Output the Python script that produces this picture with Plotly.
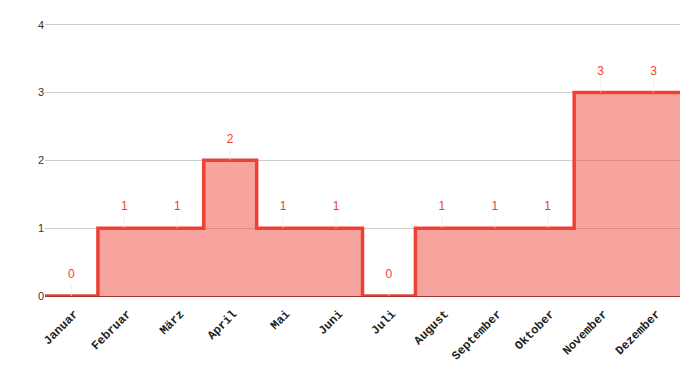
import plotly.graph_objects as go

months = ["Januar", "Februar", "März", "April", "Mai", "Juni", "Juli",
          "August", "September", "Oktober", "November", "Dezember"]
values = [0, 1, 1, 2, 1, 1, 0, 1, 1, 1, 3, 3]
y_ticks = [0, 1, 2, 3, 4]

n = len(months)
idx = list(range(n))
# extend the step line to both edges of the category band
xs = [-0.5] + idx + [n - 0.5]
ys = [values[0]] + values + [values[-1]]

line_color = "#ee4035"

fig = go.Figure()
fig.add_trace(go.Scatter(
    x=xs, y=ys, mode="lines", line=dict(shape="hvh", color=line_color, width=3.5),
    fill="tozeroy", fillcolor="rgba(238,64,53,0.48)", hoverinfo="skip", showlegend=False,
))
fig.add_trace(go.Scatter(
    x=idx, y=values, mode="markers+text", text=[str(v) for v in values],
    marker=dict(size=22, color="rgba(0,0,0,0)", symbol="line-ns",
                line=dict(color="rgba(0,0,0,0)", width=0)),
    error_y=dict(type="constant", value=0.17, valueminus=0, symmetric=False,
                 width=0, thickness=1, color="rgba(232,232,232,0.6)"),
    textposition="top center", textfont=dict(color=line_color, size=12, family="Arial, Liberation Sans"),
    showlegend=False, cliponaxis=False, hoverinfo="skip",
))

fig.update_layout(
    width=700, height=371,
    margin=dict(l=45, r=20, t=23, b=75),
    plot_bgcolor="white", paper_bgcolor="white",
    xaxis=dict(
        range=[-0.5, n - 0.5], tickmode="array", tickvals=idx, ticktext=months,
        tickangle=-45, tickfont=dict(family="Liberation Mono, Courier New", size=12, color="#222", weight="bold"),
        showgrid=False, zeroline=False, showline=True, linecolor="#9a3b33", linewidth=1,
        ticks="", fixedrange=True, ticklabelstandoff=5, ticklabelshift=3, automargin=False,
    ),
    yaxis=dict(
        range=[0, 4.025], tickmode="array", tickvals=y_ticks,
        tickfont=dict(family="Arial, Liberation Sans", size=11, color="#333"),
        showgrid=True, gridcolor="#cccccc", gridwidth=1, zeroline=False,
        ticks="", ticklen=0, fixedrange=True, automargin=False,
    ),
)

fig.write_html("out.html")
